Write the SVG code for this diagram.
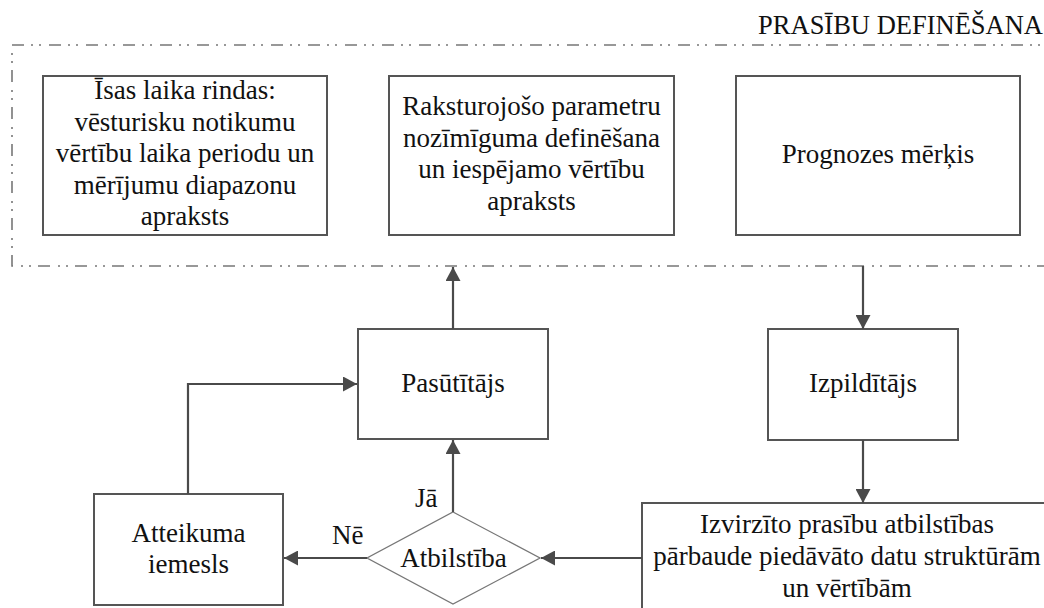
<svg xmlns="http://www.w3.org/2000/svg" width="1044" height="608" viewBox="0 0 1044 608">
<style>
  text { font-size: 27px; fill: #111; }
  .c { text-anchor: middle; }
  .box { fill: #fff; stroke: #555; stroke-width: 2; }
  .dia { fill: #fff; stroke: #777; stroke-width: 1.3; }
  .frame { fill: none; stroke: #777; stroke-width: 1.6; stroke-dasharray: 12 8 2 6 2 7; }
  .conn { fill: none; stroke: #4a4a4a; stroke-width: 2.2; marker-end: url(#arr); }
</style>
<defs>
  <marker id="arr" markerUnits="userSpaceOnUse" markerWidth="15" markerHeight="15" refX="14" refY="7.5" orient="auto">
    <path d="M0,0 L14,7.5 L0,15 z" fill="#4a4a4a"/>
  </marker>
</defs>
<rect width="1044" height="608" fill="#fff"/>
<g font-family="'Liberation Serif', 'Times New Roman', 'DejaVu Serif', serif">
<g id="frame">
  <path class="frame" d="M1060,45 L12,45 L12,266 L1060,266"/>
  <text x="1043" y="34" text-anchor="end" style="font-size:26.5px">PRASĪBU DEFINĒŠANA</text>
</g>

<g id="node-timeseries">
  <rect class="box" x="43" y="76" width="284" height="159"/>
  <text class="c" x="185" y="99">Īsas laika rindas:</text>
  <text class="c" x="185" y="130.5">vēsturisku notikumu</text>
  <text class="c" x="185" y="162">vērtību laika periodu un</text>
  <text class="c" x="185" y="193.5">mērījumu diapazonu</text>
  <text class="c" x="185" y="225">apraksts</text>
</g>

<g id="node-params">
  <rect class="box" x="389" y="76" width="285" height="159"/>
  <text class="c" x="531.5" y="115">Raksturojošo parametru</text>
  <text class="c" x="531.5" y="146.5">nozīmīguma definēšana</text>
  <text class="c" x="531.5" y="178">un iespējamo vērtību</text>
  <text class="c" x="531.5" y="209.5">apraksts</text>
</g>

<g id="node-goal">
  <rect class="box" x="736" y="76" width="284" height="159"/>
  <text class="c" x="878" y="163">Prognozes mērķis</text>
</g>

<g id="node-client">
  <rect class="box" x="358" y="329" width="190" height="110"/>
  <text class="c" x="453" y="392">Pasūtītājs</text>
</g>

<g id="node-executor">
  <rect class="box" x="768" y="329" width="190" height="111"/>
  <text class="c" x="863" y="392">Izpildītājs</text>
</g>

<g id="node-check">
  <rect class="box" x="642" y="503" width="420" height="130"/>
  <text class="c" x="847" y="533">Izvirzīto prasību atbilstības</text>
  <text class="c" x="847" y="565">pārbaude piedāvāto datu struktūrām</text>
  <text class="c" x="847" y="597">un vērtībām</text>
</g>

<g id="node-decision">
  <polygon class="dia" points="453,512 540,558 453,604 367,558"/>
  <text class="c" x="453.5" y="567">Atbilstība</text>
</g>

<g id="node-reason">
  <rect class="box" x="94" y="494" width="189" height="111"/>
  <text class="c" x="188.5" y="542">Atteikuma</text>
  <text class="c" x="188.5" y="573">iemesls</text>
</g>

<g id="connectors">
  <line class="conn" x1="453" y1="329" x2="453" y2="267"/>
  <line class="conn" x1="863" y1="266" x2="863" y2="329"/>
  <line class="conn" x1="863" y1="440" x2="863" y2="503"/>
  <line class="conn" x1="642" y1="558" x2="541" y2="558"/>
  <line class="conn" x1="453" y1="512" x2="453" y2="440"/>
  <line class="conn" x1="367" y1="558" x2="284" y2="558"/>
  <polyline class="conn" points="188,494 188,384 357,384"/>
  <text x="415" y="507">Jā</text>
  <text x="332" y="544">Nē</text>
</g>
</g>
</svg>
